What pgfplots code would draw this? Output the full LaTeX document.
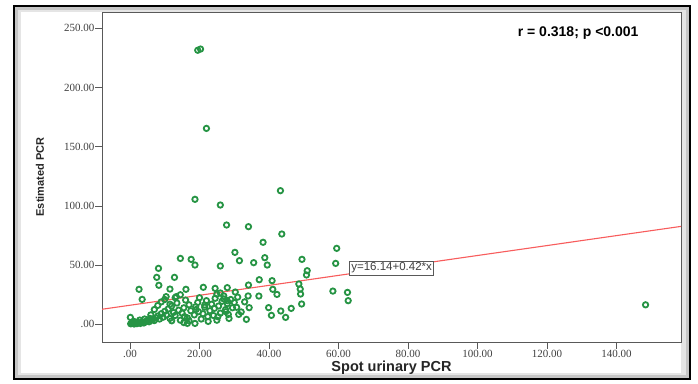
\documentclass[border=0pt]{standalone}
\usepackage{pgfplots}
\pgfplotsset{compat=1.18}
\usepackage{fontspec}
\setmainfont{Liberation Serif}
\newfontfamily\arial{Liberation Sans}
\definecolor{ptgreen}{RGB}{38,148,68}
\definecolor{fitred}{RGB}{248,92,92}
\begin{document}
\begin{tikzpicture}
\path[use as bounding box] (0pt,0pt) rectangle (698pt,383pt);
% frame with shadow
\fill[black] (13pt,3pt) rectangle (691pt,378pt);
\fill[gray!45] (15pt,5pt) rectangle (689pt,376pt);
\fill[gray!20] (18pt,8pt) rectangle (686pt,373pt);
\fill[white] (21pt,10pt) rectangle (681pt,371pt);
\begin{axis}[
  at={(102pt,41pt)}, anchor=south west, scale only axis,
  width=579pt, height=330pt,
  xmin=-8.06, xmax=158.6, ymin=-14.9, ymax=263.8,
  axis line style={gray!70!black, line width=0.7pt},
  tick align=outside, tick pos=left, major tick length=6.5pt,
  tick style={gray!70!black, line width=0.7pt},
  xtick={0,20,40,60,80,100,120,140},
  xticklabels={.00,20.00,40.00,60.00,80.00,100.00,120.00,140.00},
  ytick={0,50,100,150,200,250},
  yticklabels={.00,50.00,100.00,150.00,200.00,250.00},
  ticklabel style={font=\fontsize{11}{12}\selectfont, text=gray!50!black},
  yticklabel style={inner sep=0.8pt},
  xticklabel style={inner sep=1.2pt},
  xlabel={Spot urinary PCR},
  ylabel={Estimated PCR},
  xlabel style={at={(axis description cs:0.5,0)}, anchor=center, yshift=-26pt, font=\arial\bfseries\fontsize{14.5}{16}\selectfont, text=black!85},
  ylabel style={at={(axis description cs:0,0.5)}, anchor=center, yshift=62pt, font=\arial\bfseries\fontsize{11}{12}\selectfont, text=black!85},
  clip=true,
]
\addplot[fitred, line width=1.1pt] coordinates {(-8.06,12.75) (158.6,82.75)};
\addplot[only marks, mark=o, mark size=2.7pt, mark options={ptgreen, line width=1.8pt}] coordinates {
(19.5,231.5) (20.3,232.5) (22.0,165.5) (43.3,112.9) (18.7,105.6) (26.0,100.8)
(27.8,83.9) (34.1,82.5) (43.7,76.3) (38.3,69.3) (30.2,60.8) (59.5,64.2)
(38.8,56.3) (14.5,55.7) (17.6,54.9) (18.7,50.1) (31.5,53.8) (35.6,52.1)
(39.5,50.1) (26.0,49.3) (49.5,54.9) (59.2,51.5) (8.2,47.3) (51.0,45.3)
(50.8,41.7) (7.7,39.7) (12.8,39.7) (37.2,37.7) (40.9,36.9) (8.3,33.0)
(34.1,33.2) (48.6,34.1) (2.6,29.6) (11.5,29.8) (16.1,29.6) (21.1,31.3)
(24.5,30.4) (28.0,31.0) (41.1,29.6) (49.0,29.8) (30.3,27.3) (42.3,25.3)
(49.1,25.6) (3.5,21.1) (37.1,23.9) (58.4,28.1) (62.6,27.0) (62.8,20.0)
(49.4,17.2) (46.4,13.5) (43.4,11.3) (44.8,5.9) (40.7,7.6) (39.9,14.1)
(34.3,14.1) (33.5,4.2) (30.7,14.4) (31.3,8.4) (28.3,8.4) (27.6,10.7)
(25.3,6.5) (24.3,13.5) (22.4,6.5) (21.5,16.3) (18.9,14.9) (18.7,0.8)
(19.7,10.7) (15.7,6.5) (0.1,5.9) (0.4,0.8) (148.4,16.5)
(0.2,0.5) (0.8,1.2) (1.2,0.3) (1.6,1.0) (2.0,0.6) (2.5,1.5) (3.0,0.8)
(3.5,2.0) (4.0,1.2) (4.5,2.5) (5.0,3.0) (5.5,2.2) (6.0,3.5) (6.5,4.0)
(7.0,3.2) (1.2,2.4) (2.8,3.6) (4.2,4.5) (5.8,5.0)
(7.5,5.5) (8.0,7.0) (8.5,4.5) (9.0,9.0) (9.5,6.0) (10.0,11.0) (10.5,8.0)
(11.0,13.0) (11.5,5.0) (12.0,15.5) (12.5,10.0) (13.0,7.5) (13.5,18.0)
(14.0,12.0) (14.5,3.5) (15.0,9.5) (15.5,14.0) (16.0,20.5) (16.5,5.5)
(17.0,16.5) (17.5,11.5) (6.0,8.0) (7.0,12.5) (8.0,16.0) (9.0,19.0)
(10.0,21.0) (11.5,17.0) (13.0,22.5) (14.5,25.0) (12.0,3.0) (15.5,1.5)
(16.5,0.8) (17.0,3.0)
(18.5,8.0) (19.0,12.5) (19.5,18.5) (20.0,22.5) (20.5,4.5) (21.0,9.0)
(21.5,14.5) (22.0,20.0) (22.5,2.5) (23.0,11.5) (23.5,17.0) (24.0,7.5)
(24.5,22.0) (25.0,3.5) (25.5,15.5) (26.0,9.5) (26.5,19.5) (27.0,24.0)
(27.5,12.5) (28.0,17.5) (28.5,5.0) (29.0,21.0) (29.5,14.0) (30.0,18.5)
(31.0,23.0) (32.0,10.5) (33.0,19.0) (34.0,24.0) (27.0,21.5) (28.0,20.0)
(25.0,25.5) (26.0,26.5) (10.4,23.4) (13.3,23.4)
};
\node[draw=gray!70!black, fill=white, inner sep=1.8pt, line width=0.7pt, font=\arial\fontsize{11.5}{12}\selectfont, text=black!75] at (axis cs:75.3,47.6) {y=16.14+0.42*x};
\node[font=\arial\bfseries\fontsize{14}{16}\selectfont] at (axis cs:129,246) {r = 0.318; p <0.001};
\end{axis}
\end{tikzpicture}
\end{document}
